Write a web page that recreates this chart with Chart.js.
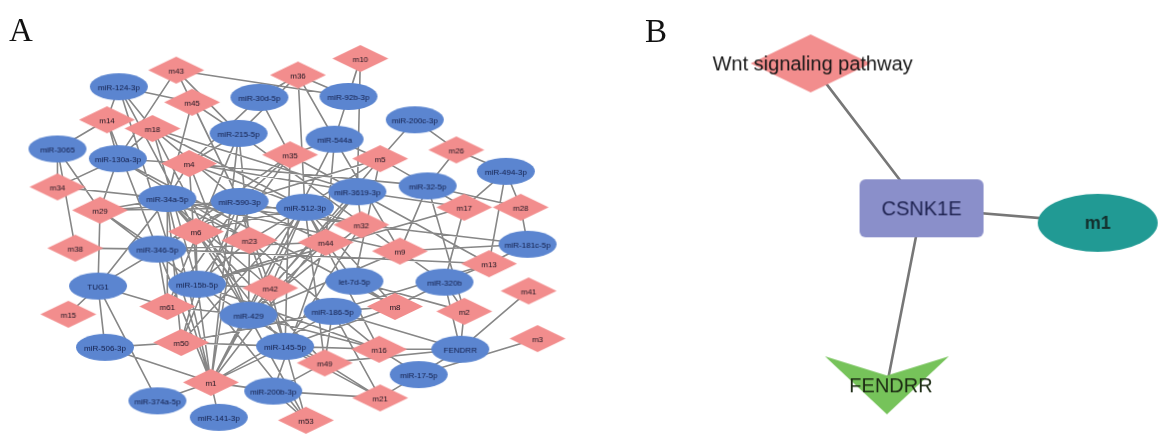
<!DOCTYPE html>
<html>
<head>
<meta charset="utf-8">
<script src="https://cdn.jsdelivr.net/npm/chart.js@4.4.1/dist/chart.umd.min.js"></script>
<style>
  html, body { margin: 0; padding: 0; background: #fff; }
  #wrap { position: relative; width: 1173px; height: 436px; overflow: hidden; }
  #net { position: absolute; left: 0; top: 0; }
  .panel { position: absolute; font-family: "Liberation Serif", "DejaVu Serif", serif; font-size: 33px; line-height: 1; color: #111; }
</style>
</head>
<body>
<div id="wrap">
  <canvas id="net" width="1173" height="436"></canvas>
  <div class="panel" style="left:9px;top:14px">A</div>
  <div class="panel" style="left:645px;top:15px">B</div>
</div>
<script>
// panel A — layout coordinates of the network nodes (frame units)
const mNodes = ['m43','m36','m10','m45','m14','m18','m35','m4','m5','m26','m34','m29','m38','m17','m28','m6','m23','m32','m44','m9','m13','m15','m61','m42','m50','m8','m2','m41','m3','m16','m49','m1','m21','m53'];
const mX = [172, 295, 358, 188, 102, 148, 287, 185, 378, 455, 52, 95, 70, 463, 520, 192, 246, 359, 323, 398, 488, 63, 163, 267, 177, 393, 463, 528, 537, 377, 322, 207, 378, 303];
const mY = [66, 71, 54, 99, 117, 126, 153, 162, 157, 148, 186, 210, 249, 207, 207, 232, 241, 225, 243, 252, 265, 317, 309, 290, 346, 309, 314, 293, 342, 353, 367, 387, 403, 426];

const rnaNodes = ['miR-124-3p','miR-30d-5p','miR-92b-3p','miR-200c-3p','miR-215-5p','miR-544a','miR-3065','miR-130a-3p','miR-494-3p','miR-34a-5p','miR-590-3p','miR-3619-3p','miR-32-5p','miR-512-3p','miR-181c-5p','miR-346-5p','TUG1','miR-15b-5p','let-7d-5p','miR-320b','miR-429','miR-186-5p','miR-506-3p','miR-145-5p','FENDRR','miR-17-5p','miR-374a-5p','miR-200b-3p','miR-141-3p'];
const rnaX = [114, 256, 346, 413, 235, 332, 52, 113, 505, 163, 236, 355, 426, 302, 527, 153, 93, 193, 352, 443, 245, 330, 100, 282, 459, 417, 153, 270, 215];
const rnaY = [83, 94, 93, 117, 131, 137, 147, 157, 170, 198, 201, 191, 185, 207, 245, 250, 288, 286, 283, 284, 318, 314, 351, 350, 353, 379, 406, 396, 423];

const edgesA = [
  ['m43','miR-92b-3p'],['m43','miR-215-5p'],['m43','miR-130a-3p'],['m43','miR-590-3p'],
  ['m36','miR-30d-5p'],['m36','miR-92b-3p'],['m36','miR-544a'],['m36','miR-215-5p'],['m36','miR-512-3p'],
  ['m10','miR-92b-3p'],['m10','miR-544a'],['m10','miR-3619-3p'],
  ['m45','miR-124-3p'],['m45','miR-215-5p'],['m45','miR-34a-5p'],['m45','miR-590-3p'],
  ['m14','miR-124-3p'],['m14','miR-3065'],['m14','miR-130a-3p'],['m14','miR-346-5p'],
  ['m18','miR-124-3p'],['m18','miR-130a-3p'],['m18','miR-590-3p'],['m18','miR-512-3p'],['m18','miR-429'],['m18','miR-15b-5p'],['m18','miR-3619-3p'],
  ['m35','miR-30d-5p'],['m35','miR-544a'],['m35','miR-590-3p'],['m35','miR-346-5p'],['m35','miR-3619-3p'],['m35','miR-145-5p'],['m35','miR-15b-5p'],
  ['m4','miR-215-5p'],['m4','miR-130a-3p'],['m4','miR-3619-3p'],['m4','miR-32-5p'],['m4','miR-15b-5p'],['m4','miR-30d-5p'],['m4','miR-34a-5p'],['m4','miR-512-3p'],['m4','miR-429'],
  ['m5','miR-200c-3p'],['m5','miR-544a'],['m5','miR-512-3p'],['m5','let-7d-5p'],['m5','miR-32-5p'],['m5','miR-429'],['m5','miR-590-3p'],
  ['m26','miR-32-5p'],['m26','miR-200c-3p'],['m26','miR-494-3p'],
  ['m34','miR-3065'],['m34','miR-130a-3p'],['m34','miR-34a-5p'],
  ['m29','miR-3065'],['m29','miR-34a-5p'],['m29','miR-130a-3p'],['m29','TUG1'],['m29','miR-346-5p'],['m29','miR-590-3p'],['m29','miR-512-3p'],['m29','miR-15b-5p'],
  ['m38','miR-3065'],['m38','miR-346-5p'],
  ['m17','miR-494-3p'],['m17','miR-3619-3p'],['m17','miR-32-5p'],['m17','miR-320b'],['m17','miR-15b-5p'],
  ['m28','miR-494-3p'],['m28','miR-32-5p'],['m28','miR-181c-5p'],
  ['m6','miR-34a-5p'],['m6','miR-590-3p'],['m6','miR-15b-5p'],['m6','miR-124-3p'],['m6','miR-145-5p'],['m6','miR-512-3p'],['m6','miR-429'],
  ['m23','miR-590-3p'],['m23','miR-512-3p'],['m23','miR-429'],['m23','miR-215-5p'],['m23','miR-130a-3p'],['m23','miR-186-5p'],['m23','miR-34a-5p'],['m23','miR-15b-5p'],['m23','miR-145-5p'],
  ['m32','miR-3619-3p'],['m32','miR-512-3p'],['m32','miR-181c-5p'],['m32','miR-34a-5p'],['m32','miR-145-5p'],['m32','miR-590-3p'],['m32','miR-429'],
  ['m44','miR-512-3p'],['m44','let-7d-5p'],['m44','miR-346-5p'],['m44','miR-544a'],['m44','miR-200b-3p'],['m44','miR-590-3p'],['m44','miR-15b-5p'],['m44','miR-429'],
  ['m9','miR-32-5p'],['m9','miR-544a'],['m9','miR-320b'],['m9','miR-215-5p'],['m9','miR-181c-5p'],['m9','miR-429'],['m9','miR-34a-5p'],
  ['m13','miR-181c-5p'],['m13','miR-494-3p'],['m13','miR-320b'],['m13','miR-346-5p'],['m13','miR-3619-3p'],['m13','miR-186-5p'],
  ['m15','TUG1'],
  ['m61','TUG1'],['m61','miR-429'],['m61','miR-346-5p'],['m61','miR-34a-5p'],['m61','miR-590-3p'],['m61','miR-215-5p'],
  ['m42','miR-15b-5p'],['m42','miR-429'],['m42','miR-145-5p'],['m42','miR-3619-3p'],['m42','miR-590-3p'],['m42','miR-512-3p'],['m42','miR-34a-5p'],
  ['m50','miR-506-3p'],['m50','miR-15b-5p'],['m50','miR-145-5p'],['m50','miR-34a-5p'],['m50','miR-186-5p'],['m50','miR-590-3p'],['m50','miR-512-3p'],
  ['m8','let-7d-5p'],['m8','miR-186-5p'],['m8','miR-320b'],['m8','miR-512-3p'],['m8','miR-130a-3p'],['m8','miR-145-5p'],
  ['m2','miR-320b'],['m2','FENDRR'],['m2','miR-32-5p'],['m2','let-7d-5p'],
  ['m41','FENDRR'],
  ['m3','miR-17-5p'],
  ['m16','miR-186-5p'],['m16','FENDRR'],['m16','miR-17-5p'],['m16','miR-145-5p'],['m16','miR-429'],['m16','miR-512-3p'],['m16','miR-15b-5p'],
  ['m49','miR-145-5p'],['m49','miR-200b-3p'],['m49','miR-186-5p'],['m49','miR-15b-5p'],['m49','FENDRR'],['m49','miR-512-3p'],['m49','miR-34a-5p'],
  ['m1','miR-374a-5p'],['m1','miR-141-3p'],['m1','miR-200b-3p'],['m1','miR-506-3p'],['m1','miR-590-3p'],['m1','miR-34a-5p'],
  ['m1','miR-346-5p'],['m1','miR-15b-5p'],['m1','miR-215-5p'],['m1','miR-544a'],['m1','miR-512-3p'],['m1','miR-429'],
  ['m1','miR-124-3p'],['m1','miR-3619-3p'],['m1','miR-186-5p'],['m1','miR-145-5p'],
  ['m21','miR-17-5p'],['m21','miR-200b-3p'],['m21','miR-145-5p'],['m21','miR-186-5p'],['m21','miR-429'],
  ['m53','miR-200b-3p'],['m53','miR-145-5p'],['m53','miR-429'],['m53','miR-15b-5p'],
  ['TUG1','miR-506-3p'],['TUG1','miR-374a-5p'],['TUG1','miR-34a-5p'],['TUG1','miR-590-3p'],
  ['FENDRR','miR-320b'],['FENDRR','miR-186-5p'],['FENDRR','miR-17-5p']
];

// panel B
const bNodes = ['Wnt signaling pathway','CSNK1E','m1','FENDRR'];
const bKinds = ['pathway','gene','module','lncRNA'];
const bX = [813, 925, 1103, 890];
const bY = [59, 208, 223, 390];
const edgesB = [['CSNK1E','Wnt signaling pathway'],['CSNK1E','m1'],['CSNK1E','FENDRR']];

// looks
const PINK = '#f28d8d', BLUE = '#5b85d0';
const styleB = {
  pathway: { shape: 'diamond', fill: PINK, w: 120, h: 58, font: '20px "Liberation Sans", Arial, sans-serif', color: '#161616', dx: 2 },
  gene:    { shape: 'rect', fill: '#8a8fca', w: 124, h: 58, font: '20px "Liberation Sans", Arial, sans-serif', color: '#1e2250', dx: 0 },
  module:  { shape: 'ellipse', fill: '#219a94', w: 120, h: 58, font: 'bold 18px "Liberation Sans", Arial, sans-serif', color: '#14302e', dx: 0 },
  lncRNA:  { shape: 'vee', fill: '#76c35a', w: 124, h: 58, font: '20px "Liberation Sans", Arial, sans-serif', color: '#1b2a12', dx: 4 }
};

function makeIcon(label, s) {
  const probe = document.createElement('canvas').getContext('2d');
  probe.font = s.font;
  const tw = probe.measureText(label).width;
  const c = document.createElement('canvas');
  c.width = Math.ceil(Math.max(s.w, tw + 2 * Math.abs(s.dx || 0)) + 4);
  c.height = Math.ceil(s.h + 4);
  const g = c.getContext('2d');
  const cx = c.width / 2, cy = c.height / 2, w = s.w, h = s.h;
  g.fillStyle = s.fill;
  g.beginPath();
  if (s.shape === 'diamond') {
    g.moveTo(cx, cy - h / 2); g.lineTo(cx + w / 2, cy); g.lineTo(cx, cy + h / 2); g.lineTo(cx - w / 2, cy); g.closePath();
  } else if (s.shape === 'ellipse') {
    g.ellipse(cx, cy, w / 2, h / 2, 0, 0, Math.PI * 2);
  } else if (s.shape === 'rect') {
    g.roundRect(cx - w / 2, cy - h / 2, w, h, 6);
  } else {
    g.moveTo(cx - w / 2, cy - h / 2); g.lineTo(cx, cy - h / 6); g.lineTo(cx + w / 2, cy - h / 2); g.lineTo(cx, cy + h / 2); g.closePath();
  }
  g.fill();
  g.font = s.font; g.fillStyle = s.color; g.textAlign = 'center'; g.textBaseline = 'middle';
  g.fillText(label, cx + (s.dx || 0), cy + 1);
  return c;
}

const smallFont = '8px "Liberation Sans", Arial, sans-serif';
const diamondA = { shape: 'diamond', fill: PINK, w: 56, h: 27, font: smallFont, color: '#1c1420' };
const ellipseA = { shape: 'ellipse', fill: BLUE, w: 58, h: 27, font: smallFont, color: '#121d48' };

const posA = {}, posB = {};
mNodes.forEach((n, i) => { posA[n] = { x: mX[i], y: mY[i] }; });
rnaNodes.forEach((n, i) => { posA[n] = { x: rnaX[i], y: rnaY[i] }; });
bNodes.forEach((n, i) => { posB[n] = { x: bX[i], y: bY[i] }; });

function edgePoints(edges, pos) {
  const pts = [];
  edges.forEach(([a, b]) => { pts.push(pos[a], pos[b], { x: null, y: null }); });
  return pts;
}

const iconsA = mNodes.map(n => makeIcon(n, diamondA)).concat(rnaNodes.map(n => makeIcon(n, ellipseA)));
const iconsB = bNodes.map((n, i) => makeIcon(n, styleB[bKinds[i]]));

const nodesA = mNodes.map(n => posA[n]).concat(rnaNodes.map(n => posA[n]));
const nodesB = bNodes.map(n => posB[n]);

new Chart(document.getElementById('net'), {
  type: 'scatter',
  data: {
    datasets: [
      { data: edgePoints(edgesA, posA), showLine: true, spanGaps: false, borderColor: '#878787', borderWidth: 1.6, pointRadius: 0, order: 3, clip: false },
      { data: edgePoints(edgesB, posB), showLine: true, spanGaps: false, borderColor: '#777777', borderWidth: 2.6, pointRadius: 0, order: 3, clip: false },
      { data: nodesA, pointRadius: 5, pointStyle: ctx => iconsA[ctx.dataIndex] || 'circle', order: 1, clip: false },
      { data: nodesB, pointRadius: 5, pointStyle: ctx => iconsB[ctx.dataIndex] || 'circle', order: 1, clip: false }
    ]
  },
  options: {
    responsive: false,
    animation: false,
    events: [],
    layout: { padding: 0 },
    plugins: { legend: { display: false }, tooltip: { enabled: false } },
    scales: {
      x: { type: 'linear', display: false, min: 0, max: 1173 },
      y: { type: 'linear', display: false, min: 0, max: 436, reverse: true }
    }
  }
});
</script>
</body>
</html>
